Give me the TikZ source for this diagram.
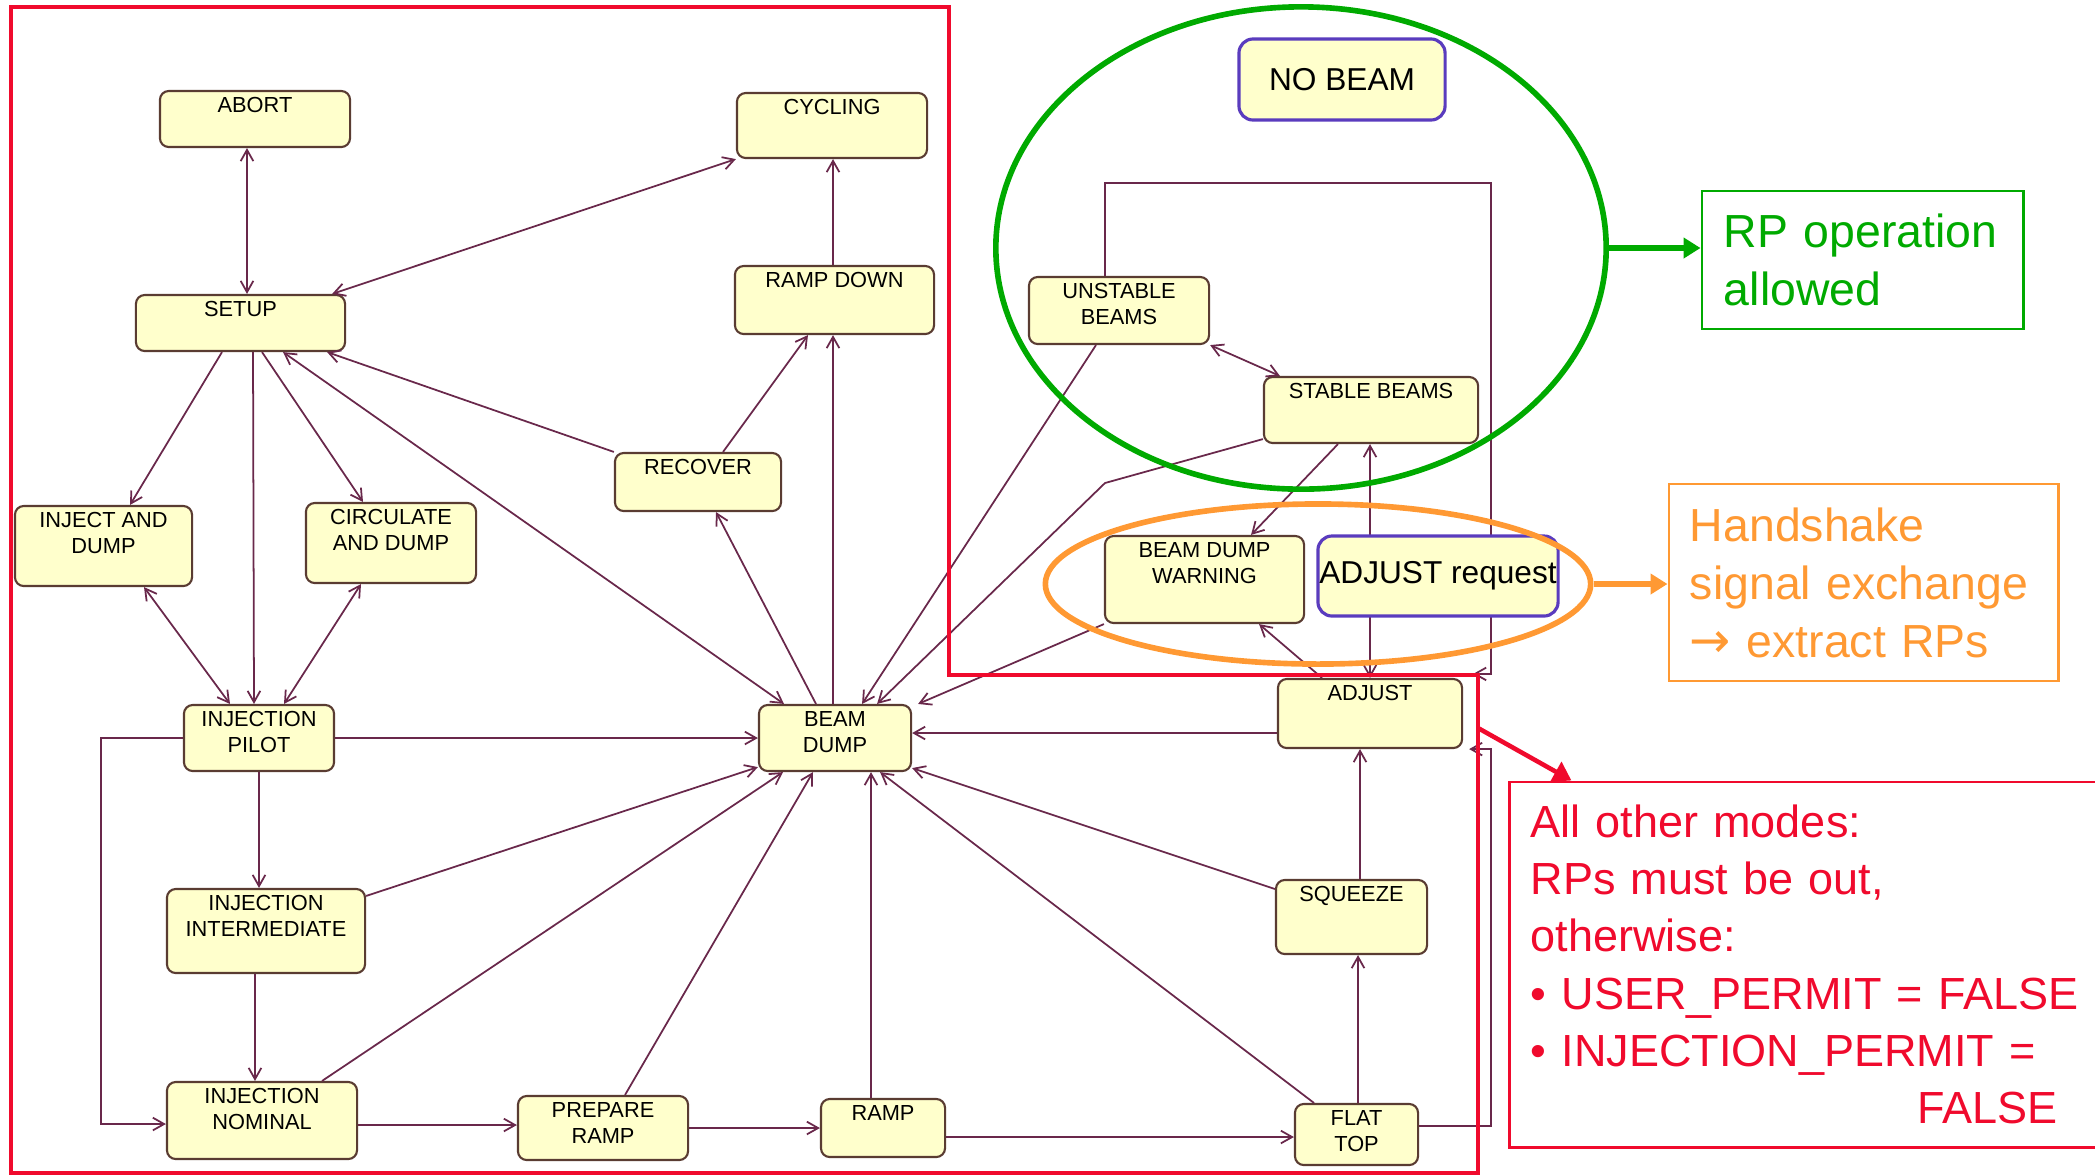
\documentclass[tikz,border=0pt]{standalone}
\usepackage{fontspec}
\setmainfont{Liberation Sans}
\newfontfamily\arrowfont{DejaVu Sans}
\usetikzlibrary{shapes.geometric,arrows.meta}
\definecolor{modefill}{RGB}{255,255,204}
\definecolor{modeline}{RGB}{90,60,50}
\definecolor{wirecol}{RGB}{105,40,75}
\definecolor{framered}{RGB}{240,10,45}
\definecolor{rpgreen}{RGB}{0,170,0}
\definecolor{hsorange}{RGB}{255,153,51}
\definecolor{reqline}{RGB}{90,60,190}

\begin{document}
\begin{tikzpicture}[x=0.01cm, y=-0.01cm,
	>={Straight Barb[length=3.2pt,width=3.6pt]},
	modebox/.style={draw=modeline, fill=modefill, line width=0.6pt, rounded corners=2.5pt},
	modename/.style={label={[anchor=north, align=center, inner sep=0pt, yshift=-0.07cm, font=\fontsize{6.2}{7.4}\selectfont]north:#1}},
	wire/.style={draw=wirecol, line width=0.5pt},
	reqbox/.style={draw=reqline, fill=modefill, line width=0.9pt, rounded corners=4pt, inner sep=0pt, font=\fontsize{9}{11}\selectfont},
	notebox/.style={align=left, line width=0.8pt, font=\fontsize{13.2}{16.5}\selectfont}]
	\useasboundingbox (0,0) rectangle (2095,1175);
	% machine modes
	\path (255,119) node(abort)[modebox, minimum width=1.9cm, minimum height=0.56cm, modename=ABORT]{}
	(832,125.5) node(cycling)[modebox, minimum width=1.9cm, minimum height=0.65cm, modename=CYCLING]{}
	(240.5,323) node(setup)[modebox, minimum width=2.09cm, minimum height=0.56cm, modename=SETUP]{}
	(834.5,300) node(rampdown)[modebox, minimum width=1.99cm, minimum height=0.68cm, modename={RAMP DOWN}]{}
	(698,482) node(recover)[modebox, minimum width=1.66cm, minimum height=0.58cm, modename=RECOVER]{}
	(103.5,546) node(injdump)[modebox, minimum width=1.77cm, minimum height=0.8cm, modename={INJECT AND\\DUMP}]{}
	(391,543) node(circdump)[modebox, minimum width=1.7cm, minimum height=0.8cm, modename={CIRCULATE\\AND DUMP}]{}
	(259,738) node(injpilot)[modebox, minimum width=1.5cm, minimum height=0.66cm, modename={INJECTION\\PILOT}]{}
	(835,738) node(beamdump)[modebox, minimum width=1.52cm, minimum height=0.66cm, modename={BEAM\\DUMP}]{}
	(266,931) node(injinter)[modebox, minimum width=1.98cm, minimum height=0.84cm, modename={INJECTION\\INTERMEDIATE}]{}
	(262,1120.5) node(injnom)[modebox, minimum width=1.9cm, minimum height=0.77cm, modename={INJECTION\\NOMINAL}]{}
	(603,1128) node(prepramp)[modebox, minimum width=1.7cm, minimum height=0.64cm, modename={PREPARE\\RAMP}]{}
	(883,1128) node(ramp)[modebox, minimum width=1.24cm, minimum height=0.58cm, modename=RAMP]{}
	(1370,713.5) node(adjust)[modebox, minimum width=1.84cm, minimum height=0.69cm, modename=ADJUST]{}
	(1351.5,917) node(squeeze)[modebox, minimum width=1.51cm, minimum height=0.74cm, modename=SQUEEZE]{}
	(1356.5,1134.5) node(flattop)[modebox, minimum width=1.23cm, minimum height=0.61cm, modename={FLAT\\TOP}]{}
	(1119,310.5) node(unstable)[modebox, minimum width=1.8cm, minimum height=0.67cm, modename={UNSTABLE\\BEAMS}]{}
	(1371,410) node(stable)[modebox, minimum width=2.14cm, minimum height=0.66cm, modename={STABLE BEAMS}]{}
	(1204.5,579.5) node(bdwarn)[modebox, minimum width=1.99cm, minimum height=0.87cm, modename={BEAM DUMP\\WARNING}]{};
	% transitions
	\draw [wire, <->] ([xshift=-0.08cm]abort.south) -- ([xshift=0.065cm]setup.north);
	\draw [wire, <->] ([xshift=-0.14cm]setup.north east) -- (cycling.south west);
	\draw [wire, ->] ([xshift=-0.015cm]rampdown.north) -- ([xshift=-0.015cm]rampdown.north |- cycling.south);
	\draw [wire, ->] ([xshift=-0.185cm]setup.south) -- ([xshift=0.265cm]injdump.north);
	\draw [wire, ->] ([xshift=0.125cm]setup.south) -- ([xshift=-0.05cm]injpilot.north);
	\draw [wire, ->] ([xshift=0.215cm]setup.south) -- ([xshift=-0.28cm]circdump.north);
	\draw [wire, <->] ([xshift=0.425cm]setup.south) -- ([xshift=-0.51cm]beamdump.north);
	\draw [wire, ->] (recover.north west) -- ([xshift=-0.19cm]setup.south east);
	\draw [wire, ->] ([xshift=0.25cm]recover.north) -- ([xshift=-0.265cm]rampdown.south);
	\draw [wire, ->] ([xshift=-0.02cm]beamdump.north) -- ([xshift=-0.02cm]beamdump.north |- rampdown.south);
	\draw [wire, ->] ([xshift=-0.19cm]beamdump.north) -- ([xshift=0.18cm]recover.south);
	\draw [wire, <->] ([xshift=0.405cm]injdump.south) -- ([xshift=-0.29cm]injpilot.north);
	\draw [wire, <->] ([xshift=-0.3cm]circdump.south) -- ([xshift=0.25cm]injpilot.north);
	\draw [wire, ->] (injpilot.east) -- (injpilot.east -| beamdump.west);
	\draw [wire, ->] (injpilot.south) -- (injpilot.south |- injinter.north);
	\draw [wire, ->] (injpilot.west) -- ++(-82,0) |- ([yshift=-0.035cm]injnom.west);
	\draw [wire, ->] ([yshift=-0.08cm]injinter.north east) -- ([yshift=0.05cm]beamdump.south west);
	\draw [wire, ->] ([xshift=-0.11cm]injinter.south) -- ([xshift=-0.11cm]injinter.south |- injnom.north);
	\draw [wire, ->] ([xshift=0.6cm]injnom.north) -- ([xshift=-0.52cm]beamdump.south);
	\draw [wire, ->] ([yshift=-0.045cm]injnom.east) -- ([yshift=-0.045cm]injnom.east -| prepramp.west);
	\draw [wire, ->] ([xshift=0.22cm]prepramp.north) -- ([xshift=-0.22cm]beamdump.south);
	\draw [wire, ->] (prepramp.east) -- (prepramp.east -| ramp.west);
	\draw [wire, ->] ([xshift=-0.12cm]ramp.north) -- ([xshift=-0.12cm]ramp.north |- beamdump.south);
	\draw [wire, ->] ([yshift=-0.09cm]ramp.east) -- ([yshift=-0.09cm]ramp.east -| flattop.west);
	\draw [wire, ->] ([xshift=-0.425cm]flattop.north) -- ([xshift=0.45cm]beamdump.south);
	\draw [wire, ->] ([xshift=0.015cm]flattop.north) -- ([xshift=0.015cm]flattop.north |- squeeze.south);
	\draw [wire, ->] ([xshift=0.085cm]squeeze.north) -- ([xshift=0.085cm]squeeze.north |- adjust.south);
	\draw [wire, ->] ([yshift=0.28cm]squeeze.west) -- ([yshift=0.04cm]beamdump.south east);
	\draw [wire, ->] ([yshift=-0.195cm]adjust.west) -- ([yshift=-0.195cm]adjust.west -| beamdump.east);
	\draw [wire, ->] ([yshift=0.085cm]flattop.east) -| ([xshift=0.28cm]adjust.south east) -- ([xshift=0.06cm]adjust.south east);
	\draw [wire, ->] ([xshift=-0.14cm]unstable.north) -- ++(0,-93) -| ([xshift=0.28cm,yshift=0.04cm]adjust.north east) -- ([xshift=0.1cm,yshift=0.04cm]adjust.north east);
	\draw [wire, ->] ([xshift=-0.23cm]unstable.south) -- ([xshift=-0.5cm]beamdump.north east);
	\draw [wire, ->] ([yshift=0.05cm]stable.south west) -- (1105,483) -- ([xshift=-0.35cm]beamdump.north east);
	\draw [wire, ->] (bdwarn.south west) -- ([xshift=0.06cm]beamdump.north east);
	\draw [wire, <->] (unstable.south east) -- ([xshift=0.17cm]stable.north west);
	\draw [wire, ->] ([xshift=-0.33cm]stable.south) -- ([xshift=0.465cm]bdwarn.north);
	\draw [wire, <->] (adjust.north) -- (adjust.north |- stable.south);
	\draw [wire, ->] ([xshift=-0.48cm]adjust.north) -- ([xshift=0.545cm]bdwarn.south);
	% added boxes
	\path (1342,79.5) node(nobeam)[reqbox, minimum width=2.06cm, minimum height=0.81cm]{NO BEAM}
	(1438,576) node(adjreq)[reqbox, minimum width=2.4cm, minimum height=0.8cm]{ADJUST request};
	% zones
	\path (1301,248) node(rpzone)[ellipse, draw=rpgreen, line width=1.6pt, minimum width=6.1cm, minimum height=4.82cm]{}
	(1318,584) node(hszone)[ellipse, draw=hsorange, line width=1.6pt, minimum width=5.45cm, minimum height=1.6cm]{};
	\draw [framered, line width=1.2pt] (11,7) -- (949,7) -- (949,675) -- (1478,675) -- (1478,1173) -- (11,1173) -- cycle;
	\coordinate (framecorner) at (1478,728);
	% notes
	\path (1862.5,260) node(rpbox)[notebox, draw=rpgreen, text=rpgreen, text width=2.77cm, inner xsep=0.22cm, minimum height=1.38cm]{RP operation\\allowed}
	(1863.5,582.5) node(hsbox)[notebox, draw=hsorange, text=hsorange, text width=3.47cm, inner xsep=0.21cm, minimum height=1.97cm]{Handshake\\signal exchange\\{\arrowfont\fontsize{14}{16.5}\selectfont →} extract RPs}
	(1826,964.5) node(redbox)[notebox, draw=framered, text=framered, text width=5.9cm, inner xsep=0.21cm, minimum height=3.65cm, font=\fontsize{12.8}{16.3}\selectfont]{All other modes:\\RPs must be out,\\otherwise:\\• USER\_PERMIT = FALSE\\• INJECTION\_PERMIT =\\\hspace*{3.86cm}FALSE};
	\draw [rpgreen, line width=1.5pt, -{Triangle[length=0.17cm,width=0.2cm]}] (rpzone.east) -- (rpzone.east -| rpbox.west);
	\draw [hsorange, line width=1.5pt, -{Triangle[length=0.17cm,width=0.2cm]}] (hszone.east) -- (hszone.east -| hsbox.west);
	\draw [framered, line width=1.3pt, -{Triangle[length=0.18cm,width=0.22cm]}] (framecorner) -- ([xshift=0.63cm]redbox.north west);
\end{tikzpicture}
\end{document}
